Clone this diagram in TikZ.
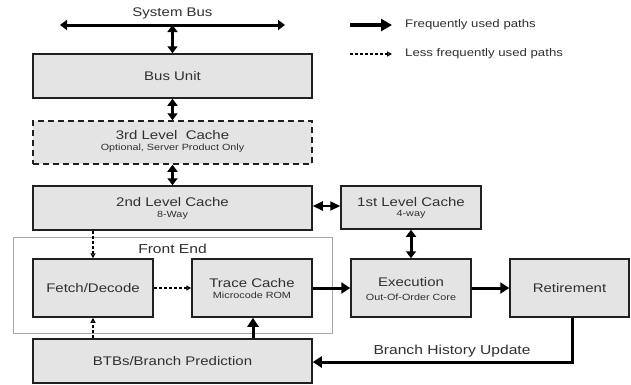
\documentclass[tikz,border=0pt]{standalone}
\usepackage{fontspec}
\setmainfont[FakeStretch=1.2]{Liberation Sans}
\usetikzlibrary{arrows.meta,calc}
\definecolor{boxfill}{HTML}{E4E4E4}
\definecolor{boxline}{HTML}{202020}
\definecolor{txt}{HTML}{303030}
\tikzset{
  blk/.style={draw=boxline, fill=boxfill, line width=1.5pt, inner sep=0pt, align=center, text=txt, font=\fontsize{12.5}{14}\selectfont},
  fpath/.style={line width=3pt, draw=black, -{Triangle[length=9pt,width=11pt]}},
  fpath2/.style={line width=3pt, draw=black, {Triangle[length=7pt,width=10pt]}-{Triangle[length=7pt,width=10pt]}},
  lpath/.style={line width=1.5pt, draw=black, dash pattern=on 3pt off 2pt, -{Triangle[open,length=5pt,width=5pt,line width=1.2pt]}},
  lbl/.style={text=txt, font=\fontsize{12.5}{14}\selectfont, inner sep=0pt},
  slbl/.style={text=txt, font=\fontsize{9}{10}\selectfont, inner sep=0pt},
}
\begin{document}
\begin{tikzpicture}[x=1pt,y=-1pt]
\useasboundingbox[fill=white] (0,0) rectangle (631,384);
% front end frame
\draw[draw=gray!70, line width=0.8pt] (13,237) rectangle (332,333);
\node[lbl, font=\fontsize{13}{14}\selectfont] (fe) at (172.5,249) {Front End};
% boxes
\node[blk, minimum width=279pt, minimum height=44pt] (bus) at (172.5,76) {Bus Unit};
\node[blk, dashed, dash pattern=on 6pt off 4pt, minimum width=279pt, minimum height=43pt] (l3) at (172.5,142.5) {};
\node[lbl] (l3t) at (172.5,135.5) {3rd Level\ \ Cache};
\node[slbl] (l3s) at (172.5,148.5) {Optional, Server Product Only};
\node[blk, minimum width=279pt, minimum height=44pt] (l2) at (172.5,208) {};
\node[lbl] (l2t) at (172.5,202) {2nd Level Cache};
\node[slbl] (l2s) at (172.5,215) {8-Way};
\node[blk, minimum width=140pt, minimum height=43pt] (l1) at (411,207.5) {};
\node[lbl] (l1t) at (411,202) {1st Level Cache};
\node[slbl] (l1s) at (411,214.5) {4-way};
\node[blk, minimum width=120pt, minimum height=58pt] (fd) at (93,288) {Fetch/Decode};
\node[blk, minimum width=120pt, minimum height=58pt] (tc) at (252,288) {};
\node[lbl] (tct) at (252,283) {Trace Cache};
\node[slbl] (tcs) at (252,295.5) {Microcode ROM};
\node[blk, minimum width=120pt, minimum height=58pt] (ex) at (411,288) {};
\node[lbl] (ext) at (411,282) {Execution};
\node[slbl] (exs) at (411,297) {Out-Of-Order Core};
\node[blk, minimum width=119pt, minimum height=58pt] (rt) at (569.5,288) {Retirement};
\node[blk, minimum width=279pt, minimum height=44pt] (btb) at (172.5,361) {BTBs/Branch Prediction};
% system bus
\node[lbl] (sb) at (172.5,13) {System Bus};
\coordinate (busL) at (60,25);
\coordinate (busR) at (285,25);
\coordinate (busM) at (172.5,25);
\draw[fpath2] (busL) -- (busR);
\draw[fpath2] (busM) -- (bus.north);
\draw[fpath2] (bus.south) -- (l3.north);
\draw[fpath2] (l3.south) -- (l2.north);
\draw[line width=2pt, {Triangle[length=10pt,width=9pt]}-{Triangle[length=10pt,width=9pt]}] (l2.east |- 0,206) -- (l1.west |- 0,206);
\draw[fpath2] (l1.south) -- (ex.north);
% dashed paths
\draw[lpath] (l2.south -| fd.north) -- (fd.north);
\draw[lpath] (btb.north -| fd.south) -- (fd.south);
\draw[lpath] (fd.east) -- (tc.west);
% frequent paths
\draw[fpath] (btb.north -| 253,0) -- (tc.south -| 253,0);
\draw[fpath] (tc.east) -- (ex.west);
\draw[fpath] (ex.east) -- (rt.west);
\coordinate (bh) at (572,362);
\draw[fpath] (rt.south -| bh) -- (bh) -- (btb.east |- bh);
\node[lbl, font=\fontsize{13}{14}\selectfont] (bhu) at (452,351) {Branch History Update};
% legend
\coordinate (lg1a) at (350,25);
\coordinate (lg1b) at (392,25);
\coordinate (lg2a) at (350,54);
\coordinate (lg2b) at (392,54);
\draw[line width=3.5pt, -{Triangle[length=11pt,width=12pt]}] (lg1a) -- (lg1b);
\draw[lpath] (lg2a) -- (lg2b);
\node[lbl, anchor=west, font=\fontsize{11}{12}\selectfont] (lgt1) at (405,25) {Frequently used paths};
\node[lbl, anchor=west, font=\fontsize{11}{12}\selectfont] (lgt2) at (405,54) {Less frequently used paths};
\end{tikzpicture}
\end{document}
